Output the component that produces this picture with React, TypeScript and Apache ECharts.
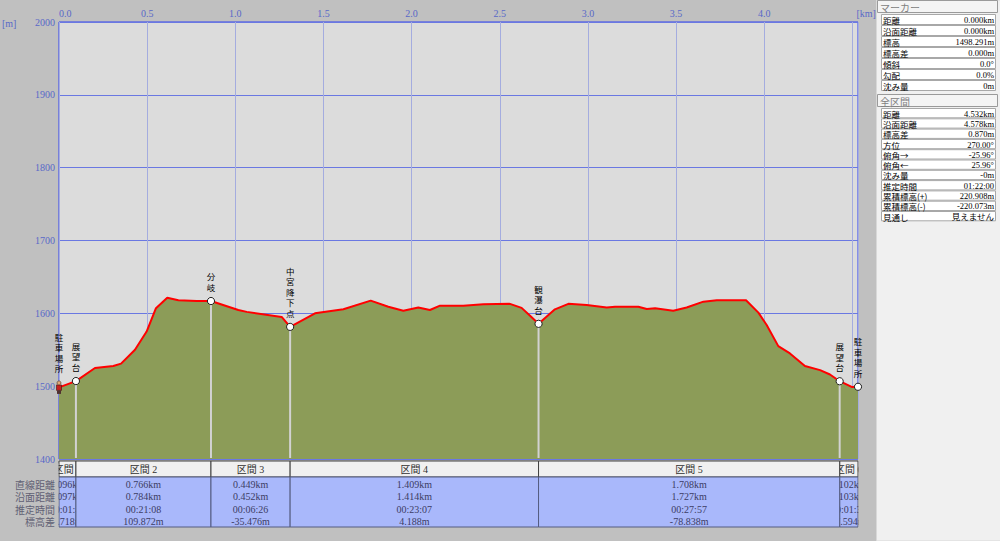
import React, { useEffect, useRef } from 'react';
import * as echarts from 'echarts';

// ---- elevation profile (horizontal distance km, elevation m) ----
const distKm = [0, 0.096, 0.204, 0.308, 0.352, 0.431, 0.497, 0.550, 0.614, 0.677, 0.781, 0.862, 1.017, 1.065, 1.263, 1.311, 1.452, 1.613, 1.768, 1.868, 1.953, 2.038, 2.104, 2.161, 2.293, 2.407, 2.558, 2.624, 2.675, 2.720, 2.813, 2.889, 2.993, 3.107, 3.154, 3.286, 3.334, 3.381, 3.484, 3.560, 3.655, 3.731, 3.897, 3.967, 4.014, 4.080, 4.146, 4.231, 4.317, 4.373, 4.428, 4.496, 4.532];
const elevM = [1498.3, 1507.0, 1525, 1527.7, 1531, 1550, 1575, 1607, 1621.5, 1618, 1617, 1616.9, 1604.6, 1602, 1595, 1581.4, 1600, 1605.5, 1617.4, 1609, 1603.6, 1608, 1604.6, 1610.5, 1610.5, 1612.4, 1613, 1607.5, 1596, 1585.6, 1605.5, 1613, 1611.6, 1608, 1609, 1609, 1606, 1607, 1603.6, 1608, 1616, 1618, 1618, 1601, 1584, 1555, 1545, 1527.7, 1522, 1516, 1506.8, 1499, 1499.2];

// ---- markers ----
const markerNames = ['駐車場所', '展望台', '分岐', '中宮降下点', '観瀑台', '展望台', '駐車場所'];
const markerKm = [0, 0.096, 0.862, 1.311, 2.720, 4.428, 4.532];
const markerElev = [1498.291, 1507.009, 1616.881, 1581.405, 1585.593, 1506.755, 1499.161];

// ---- section table ----
const sectionNames = ['区間 1', '区間 2', '区間 3', '区間 4', '区間 5', '区間 6'];
const rowLabels = ['直線距離', '沿面距離', '推定時間', '標高差'];
const straightDist = ['0.096km', '0.766km', '0.449km', '1.409km', '1.708km', '0.102km'];
const surfaceDist = ['0.097km', '0.784km', '0.452km', '1.414km', '1.727km', '0.103km'];
const estTime = ['00:01:45', '00:21:08', '00:06:26', '00:23:07', '00:27:57', '00:01:37'];
const elevDiff = ['8.718m', '109.872m', '-35.476m', '4.188m', '-78.838m', '-7.594m'];

// ---- side panel ----
const markerHeading = 'マーカー';
const markerLabels = ['距離', '沿面距離', '標高', '標高差', '傾斜', '勾配', '沈み量'];
const markerValues = ['0.000km', '0.000km', '1498.291m', '0.000m', '0.0°', '0.0%', '0m'];
const totalHeading = '全区間';
const totalLabels = ['距離', '沿面距離', '標高差', '方位', '俯角→', '俯角←', '沈み量', '推定時間', '累積標高(+)', '累積標高(-)', '見通し'];
const totalValues = ['4.532km', '4.578km', '0.870m', '270.00°', '-25.96°', '25.96°', '-0m', '01:22:00', '220.908m', '-220.073m', '見えません'];

const X_MAX = 4.532;
const Y_MIN = 1400;
const Y_MAX = 2000;

const AXIS_COLOR = '#5868c8';
const SERIF = "'Liberation Serif', 'Noto Sans CJK JP'";
const CJK = "'Noto Sans CJK JP', sans-serif";
const BG = '#c0c0c0';

function buildGraphic(px: number[]) {
  const els: any[] = [];
  // axis units
  els.push({ type: 'text', x: 2, y: 23, z: 20, style: { text: '[m]', fill: AXIS_COLOR, fontSize: 10, fontFamily: SERIF, verticalAlign: 'middle' } });
  els.push({ type: 'text', x: 856.5, y: 13, z: 20, style: { text: '[km]', fill: AXIS_COLOR, fontSize: 10, fontFamily: SERIF, verticalAlign: 'middle' } });

  // bottom section table
  const hTop = 461, hBot = 477, dBot = 527;
  const rows = [straightDist, surfaceDist, estTime, elevDiff];
  for (let s = 0; s < sectionNames.length; s++) {
    const x0 = px[s], x1 = px[s + 1];
    const narrow = x1 - x0 < 40;
    const zr = narrow ? 10 : 12;
    const cx = (x0 + x1) / 2;
    els.push({ type: 'rect', z: zr, shape: { x: x0, y: hTop, width: x1 - x0, height: hBot - hTop }, style: { fill: '#f0f0f0', stroke: '#404040', lineWidth: 1 } });
    els.push({ type: 'rect', z: zr, shape: { x: x0, y: hBot, width: x1 - x0, height: dBot - hBot }, style: { fill: '#a9b8fb', stroke: '#545c80', lineWidth: 1 } });
    els.push({ type: 'text', z: zr + 1, x: cx, y: (hTop + hBot) / 2 + 0.5, style: { text: sectionNames[s], fill: '#303030', fontSize: 10, fontFamily: SERIF, align: 'center', verticalAlign: 'middle' } });
    for (let r = 0; r < rows.length; r++) {
      els.push({ type: 'text', z: zr + 1, x: cx, y: hBot + 7 + r * 12.5, style: { text: rows[r][s], fill: '#3c3c64', fontSize: 10, fontFamily: SERIF, align: 'center', verticalAlign: 'middle' } });
    }
  }
  // covers that clip the narrow cells
  els.push({ type: 'rect', z: 12, shape: { x: 45, y: hTop + 2.5, width: px[0] - 45 - 0.5, height: dBot - hTop + 1 }, style: { fill: BG } });
  els.push({ type: 'rect', z: 12, shape: { x: px[px.length - 1] + 0.5, y: hTop - 1, width: 17, height: dBot - hTop + 3 }, style: { fill: BG } });
  for (let r = 0; r < rowLabels.length; r++) {
    els.push({ type: 'text', z: 14, x: 55, y: hBot + 7 + r * 12.5, style: { text: rowLabels[r], fill: '#606074', fontSize: 10, fontFamily: CJK, align: 'right', verticalAlign: 'middle' } });
  }

  // right side panel
  els.push({ type: 'rect', z: 20, shape: { x: 876.5, y: 0, width: 124, height: 541 }, style: { fill: '#f0f0f0', stroke: '#d8d8d8', lineWidth: 1 } });
  const panel = (heading: string, top: number, labels: string[], values: string[], rowH: number) => {
    els.push({ type: 'rect', z: 21, shape: { x: 877.5, y: top + 0.5, width: 120, height: 12 }, style: { fill: '#f4f4f4', stroke: '#9a9a9a', lineWidth: 1 } });
    els.push({ type: 'text', z: 22, x: 880, y: top + 7, style: { text: heading, fill: '#808080', fontSize: 10, fontFamily: CJK, verticalAlign: 'middle' } });
    const t0 = top + 14;
    for (let i = 0; i < labels.length; i++) {
      const y = t0 + i * rowH;
      els.push({ type: 'rect', z: 21, shape: { x: 881.5, y: y + 0.5, width: 114, height: rowH - 1 }, style: { fill: '#ffffff', stroke: '#a8a8a8', lineWidth: 1 } });
      els.push({ type: 'text', z: 22, x: 883, y: y + rowH / 2 + 0.5, style: { text: labels[i], fill: '#000000', fontSize: 8.5, lineHeight: 9, fontFamily: CJK, verticalAlign: 'middle' } });
      els.push({ type: 'text', z: 22, x: 994, y: y + rowH / 2 + 0.5, style: { text: values[i], fill: '#000000', fontSize: 8.5, lineHeight: 9, fontFamily: SERIF, align: 'right', verticalAlign: 'middle' } });
    }
  };
  panel(markerHeading, 0, markerLabels, markerValues, 11);
  panel(totalHeading, 94, totalLabels, totalValues, 10.3);
  return els;
}

export default function App() {
  const ref = useRef<HTMLDivElement>(null);
  useEffect(() => {
    if (!ref.current) return;
    const chart = echarts.init(ref.current, undefined, { renderer: 'svg' });
    const option: any = {
      animation: false,
      backgroundColor: BG,
      grid: { left: 59, right: 142, top: 22, bottom: 82, show: true, backgroundColor: '#dcdcdc', borderColor: '#3040f0', borderWidth: 1, z: 0 },
      xAxis: {
        type: 'value', position: 'top', min: 0, max: X_MAX, interval: 0.5,
        axisLine: { show: false }, axisTick: { show: false },
        axisLabel: { color: AXIS_COLOR, fontSize: 10, fontFamily: SERIF, margin: 4, showMaxLabel: false, alignMinLabel: 'left',
          formatter: (v: number) => (v > 4.45 ? '' : v.toFixed(1)) },
        splitLine: { show: true, lineStyle: { color: '#a4acdf', width: 1 } },
      },
      yAxis: {
        type: 'value', min: Y_MIN, max: Y_MAX, interval: 100,
        axisLine: { show: false }, axisTick: { show: false },
        axisLabel: { color: AXIS_COLOR, fontSize: 10, fontFamily: SERIF, margin: 4, formatter: (v: number) => String(v) },
        splitLine: { show: true, lineStyle: { color: '#6a78e2', width: 1 } },
      },
      series: [
        {
          type: 'line',
          data: distKm.map((d, i) => [d, elevM[i]]),
          showSymbol: false,
          symbol: 'none',
          lineStyle: { color: '#ff0000', width: 2 },
          areaStyle: { color: '#8c9c58', opacity: 1, origin: 'start' },
          z: 2,
        },
        {
          type: 'custom',
          data: markerKm.map((k, i) => [k, markerElev[i]]),
          clip: false,
          z: 5,
          renderItem: (params: any, api: any) => {
            const i = params.dataIndex;
            const p = api.coord([api.value(0), api.value(1)]);
            const base = api.coord([api.value(0), Y_MIN]);
            const children: any[] = [];
            const isEnd = i === 0 || i === markerKm.length - 1;
            if (!isEnd) {
              children.push({ type: 'line', shape: { x1: p[0], y1: p[1], x2: p[0], y2: base[1] - 1 }, style: { stroke: '#d2d2d2', lineWidth: 2 } });
            }
            if (i === 0) {
              children.push({ type: 'rect', shape: { x: p[0] - 2.5, y: p[1] - 2.5, width: 5, height: 5.5 }, style: { fill: '#c81e1e', stroke: '#401010', lineWidth: 0.6 } });
              children.push({ type: 'circle', shape: { cx: p[0], cy: p[1] - 4.5, r: 2 }, style: { fill: '#e0a878', stroke: '#503020', lineWidth: 0.6 } });
              children.push({ type: 'rect', shape: { x: p[0] - 2, y: p[1] + 3, width: 4, height: 3.5 }, style: { fill: '#503030' } });
            } else {
              children.push({ type: 'circle', shape: { cx: p[0], cy: p[1], r: 3.6 }, style: { fill: '#ffffff', stroke: '#202020', lineWidth: 1 } });
            }
            children.push({
              type: 'text', x: p[0], y: p[1] - (i === 0 ? 14 : 9),
              style: { text: markerNames[i].split('').join('\n'), fill: '#000000', fontSize: 8.5, fontFamily: CJK, align: 'center', verticalAlign: 'bottom', lineHeight: 10.4 },
            });
            return { type: 'group', children };
          },
        },
      ],
    };
    chart.setOption(option);
    const px = markerKm.map((k) => chart.convertToPixel({ xAxisIndex: 0 }, k) as number);
    chart.setOption({ graphic: buildGraphic(px) });
    return () => chart.dispose();
  }, []);
  return <div ref={ref} style={{ position: 'fixed', left: 0, top: 0, width: 1000, height: 541 }} />;
}
